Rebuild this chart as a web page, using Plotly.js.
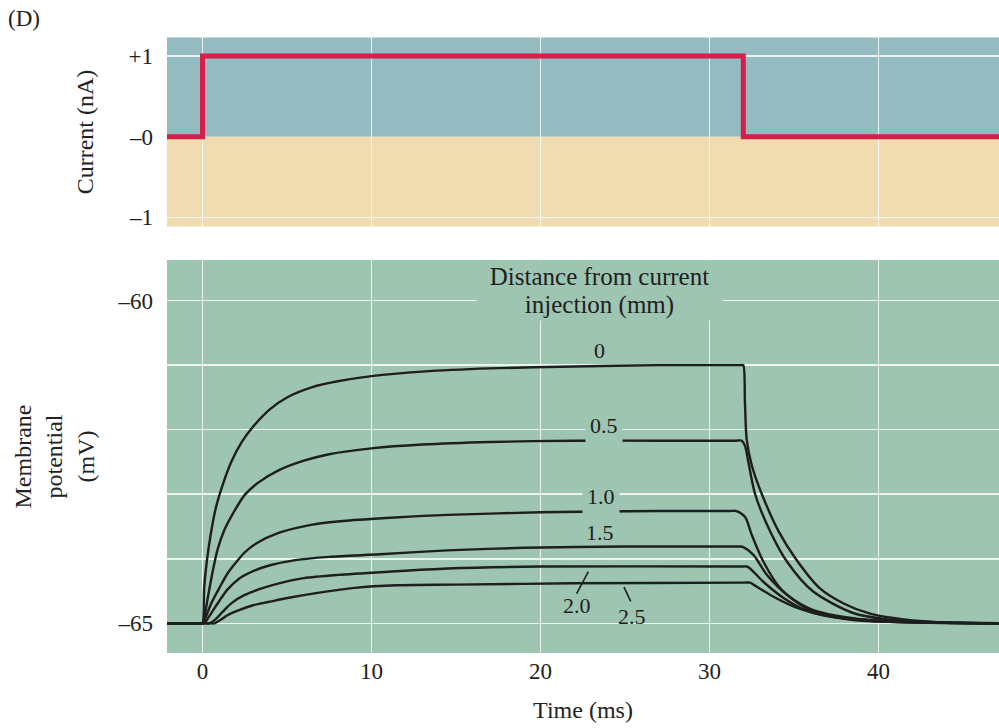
<!DOCTYPE html>
<html>
<head>
<meta charset="utf-8">
<script src="https://cdn.plot.ly/plotly-3.0.1.min.js"></script>
<style>html,body{margin:0;padding:0;background:#fff}#chart{width:999px;height:728px}</style>
</head>
<body>
<div id="chart"></div>
<script>
// ---- Data ----
// Injected current step (nA) vs time (ms)
const currentTime = [-2.1, 0, 32, 47.2];
const currentNA   = [0, 1, 0, 0];

// Membrane potential (mV) at each distance from current injection
const distanceLabels = ['0', '0.5', '1.0', '1.5', '2.0', '2.5'];

const t_0  = [-2.1, -0.1, 0, 0.1, 0.25, 0.5, 0.8, 1.2, 1.7, 2.3, 3, 4, 5, 6.5, 8, 10, 13, 17, 22, 27, 31.9, 32, 32.1, 32.2, 32.5, 33.1, 34.1, 35.1, 36.5, 38, 39.5, 41.5, 44, 47.2];
const v_0  = [-65, -65, -65, -64.45, -64.05, -63.6, -63.2, -62.85, -62.5, -62.2, -61.95, -61.68, -61.5, -61.34, -61.25, -61.17, -61.1, -61.05, -61.02, -61.0, -61.0, -61.0, -61.6, -62.15, -62.55, -63.0, -63.58, -64.0, -64.45, -64.7, -64.85, -64.94, -64.99, -65];

const t_05 = [-2.1, -0.1, 0, 0.15, 0.35, 0.6, 0.9, 1.3, 1.8, 2.5, 3.3, 4.5, 6, 7.5, 10, 13, 17, 22, 27, 31.5, 31.9, 32.1, 32.3, 32.7, 33.6, 34.6, 36.1, 38.5, 40.5, 43, 47.2];
const v_05 = [-65, -65, -65, -64.85, -64.55, -64.2, -63.85, -63.55, -63.3, -63.01, -62.82, -62.63, -62.48, -62.38, -62.29, -62.23, -62.19, -62.17, -62.17, -62.17, -62.17, -62.25, -62.5, -63.0, -63.58, -64.05, -64.5, -64.84, -64.94, -64.98, -65];

const t_10 = [-2.1, -0.1, 0, 0.2, 0.5, 1.0, 1.5, 2.0, 2.5, 3.2, 4.5, 6.5, 8.5, 11.4, 14.5, 20, 27, 31.2, 31.6, 32.1, 32.5, 33.2, 34.2, 35.75, 38.1, 41, 47.2];
const v_10 = [-65, -65, -65, -64.9, -64.7, -64.45, -64.22, -64.05, -63.9, -63.76, -63.6, -63.47, -63.41, -63.36, -63.32, -63.28, -63.26, -63.26, -63.26, -63.35, -63.63, -64.05, -64.46, -64.77, -64.92, -64.97, -65];

const t_15 = [-2.1, 0, 0.1, 0.2, 0.5, 1.0, 1.5, 2.2, 3.0, 4.0, 5.5, 7.5, 10.5, 14.5, 19, 25, 31.4, 31.8, 32.0, 32.6, 33.4, 34.6, 36.1, 38.5, 41, 47.2];
const v_15 = [-65, -65, -65, -64.97, -64.85, -64.65, -64.47, -64.3, -64.19, -64.1, -64.02, -63.97, -63.93, -63.87, -63.83, -63.81, -63.81, -63.81, -63.82, -63.94, -64.25, -64.56, -64.79, -64.92, -64.97, -65];

const t_20 = [-2.1, 0.2, 0.4, 0.8, 1.2, 1.7, 2.5, 3.5, 4.7, 6, 8, 11, 14.5, 20, 31.8, 32.2, 32.4, 33.2, 34.4, 35.9, 38.5, 41, 47.2];
const v_20 = [-65, -65, -65, -64.93, -64.82, -64.69, -64.56, -64.46, -64.37, -64.3, -64.25, -64.2, -64.15, -64.12, -64.12, -64.12, -64.15, -64.36, -64.61, -64.82, -64.95, -64.98, -65];

const t_25 = [-2.1, 0.5, 0.7, 1.1, 1.5, 2.2, 3, 3.9, 5.2, 7, 9, 11.5, 15, 22, 32.0, 32.4, 32.6, 33.6, 35.0, 36.7, 38.9, 41.5, 47.2];
const v_25 = [-65, -65, -65, -64.94, -64.87, -64.79, -64.72, -64.67, -64.6, -64.52, -64.45, -64.41, -64.4, -64.38, -64.37, -64.37, -64.4, -64.56, -64.74, -64.87, -64.95, -64.985, -65];

// Label positions for the distance labels (time ms, mV)
const labelT = [23.5, 23.76, 23.58, 23.55, 22.16, 25.41];
const labelV = [-60.78, -61.94, -63.04, -63.6, -64.72, -64.9];

// Axis ticks
const timeTicks = [0, 10, 20, 30, 40];
const currentTicks = [1, 0, -1];
const currentTickText = ['+1', '–0', '–1'];
const vTicks = [-65, -64, -63, -62, -61, -60];
const vTickText = ['–65', '', '', '', '', '–60'];

// ---- Styles ----
const SERIF = '"Liberation Serif", "Times New Roman", serif';
const BLUE = '#94bbbf';
const TAN = '#f1dcb1';
const GREEN = '#9dc5b1';
const GRID = 'rgba(255,255,255,0.8)';
const INK = '#1e1e1e';
const RED = '#d81d4a';

const xRange = [-2.1, 47.13];
const yTopRange = [-1.116, 1.232];
const yBotRange = [-65.46, -59.37];

const curveT = [t_0, t_05, t_10, t_15, t_20, t_25];
const curveV = [v_0, v_05, v_10, v_15, v_20, v_25];

const traces = [];
for (let i = 0; i < curveT.length; i++) {
  traces.push({
    x: curveT[i], y: curveV[i], xaxis: 'x2', yaxis: 'y2',
    type: 'scatter', mode: 'lines', name: distanceLabels[i] + ' mm',
    line: {color: INK, width: 2.4, shape: 'spline', smoothing: 0.8}, hoverinfo: 'skip'
  });
}
traces.push({
  x: currentTime, y: currentNA, xaxis: 'x', yaxis: 'y',
  type: 'scatter', mode: 'lines', name: 'Current',
  line: {color: RED, width: 5, shape: 'hv'}, hoverinfo: 'skip'
});

const annotations = [];
for (let i = 0; i < distanceLabels.length; i++) {
  const a = {
    text: distanceLabels[i], x: labelT[i], y: labelV[i], xref: 'x2', yref: 'y2',
    showarrow: false, font: {family: SERIF, size: 22, color: INK},
    xanchor: 'center', yanchor: 'middle'
  };
  if (i === 1 || i === 2) { a.bgcolor = GREEN; a.borderpad = 4; }
  annotations.push(a);
}
annotations.push({
  text: 'Distance from current', x: 23.49, y: -59.62, xref: 'x2', yref: 'y2',
  showarrow: false, font: {family: SERIF, size: 25, color: INK},
  bgcolor: GREEN, width: 245, height: 30, borderpad: 0, xanchor: 'center', yanchor: 'middle'
});
annotations.push({
  text: 'injection (mm)', x: 23.49, y: -60.07, xref: 'x2', yref: 'y2',
  showarrow: false, font: {family: SERIF, size: 25, color: INK},
  bgcolor: GREEN, width: 245, height: 30, borderpad: 0, xanchor: 'center', yanchor: 'middle'
});

const shapes = [
  {type: 'rect', xref: 'x domain', yref: 'y', x0: 0, x1: 1, y0: 0, y1: yTopRange[1], fillcolor: BLUE, line: {width: 0}, layer: 'below'},
  {type: 'rect', xref: 'x domain', yref: 'y', x0: 0, x1: 1, y0: yTopRange[0], y1: 0, fillcolor: TAN, line: {width: 0}, layer: 'below'},
  {type: 'rect', xref: 'x2 domain', yref: 'y2 domain', x0: 0, x1: 1, y0: 0, y1: 1, fillcolor: GREEN, line: {width: 0}, layer: 'below'},
  {type: 'line', xref: 'x2', yref: 'y2', x0: 22.14, y0: -64.54, x1: 22.83, y1: -64.2, line: {color: INK, width: 1.6}},
  {type: 'line', xref: 'x2', yref: 'y2', x0: 24.94, y0: -64.44, x1: 25.34, y1: -64.66, line: {color: INK, width: 1.6}}
];

const tickFont = {family: SERIF, size: 23, color: '#222'};
const titleFont = {family: SERIF, size: 24, color: '#222'};

const layout = {
  width: 999, height: 728,
  margin: {l: 167, r: 0, t: 0, b: 0, pad: 0},
  paper_bgcolor: '#ffffff', plot_bgcolor: 'rgba(0,0,0,0)',
  showlegend: false,
  title: {text: '(D)', x: 0.008, xanchor: 'left', y: 0.975, yanchor: 'middle', font: {family: SERIF, size: 23, color: '#222'}},
  xaxis: {domain: [0, 1], anchor: 'y', range: xRange, tickvals: timeTicks, showticklabels: false,
          showgrid: true, gridcolor: GRID, gridwidth: 1.5, zeroline: false, showline: false, ticks: ''},
  yaxis: {domain: [0.6886, 0.9488], anchor: 'x', range: yTopRange, tickvals: currentTicks, ticktext: currentTickText,
          showgrid: true, gridcolor: GRID, gridwidth: 1.5, zeroline: true, zerolinecolor: 'rgba(0,0,0,0)', zerolinewidth: 0,
          showline: false, ticks: '', tickfont: tickFont, ticklabelstandoff: 13,
          title: {text: 'Current (nA)', font: titleFont, standoff: 28}},
  xaxis2: {domain: [0, 1], anchor: 'y2', range: xRange, tickvals: timeTicks,
           showgrid: true, gridcolor: GRID, gridwidth: 1.5, zeroline: false, showline: false, ticks: '',
           tickfont: tickFont, ticklabelstandoff: 2,
           title: {text: 'Time (ms)', font: titleFont, standoff: 18}},
  yaxis2: {domain: [0.103, 0.6429], anchor: 'x2', range: yBotRange, tickvals: vTicks, ticktext: vTickText,
           showgrid: true, gridcolor: GRID, gridwidth: 1.5, zeroline: false, showline: false, ticks: '',
           tickfont: tickFont, ticklabelstandoff: 13,
           title: {text: 'Membrane<br>potential<br>(mV)', font: titleFont, standoff: 16}},
  shapes: shapes,
  annotations: annotations
};

Plotly.newPlot('chart', traces, layout, {staticPlot: true, displayModeBar: false});
</script>
</body>
</html>
